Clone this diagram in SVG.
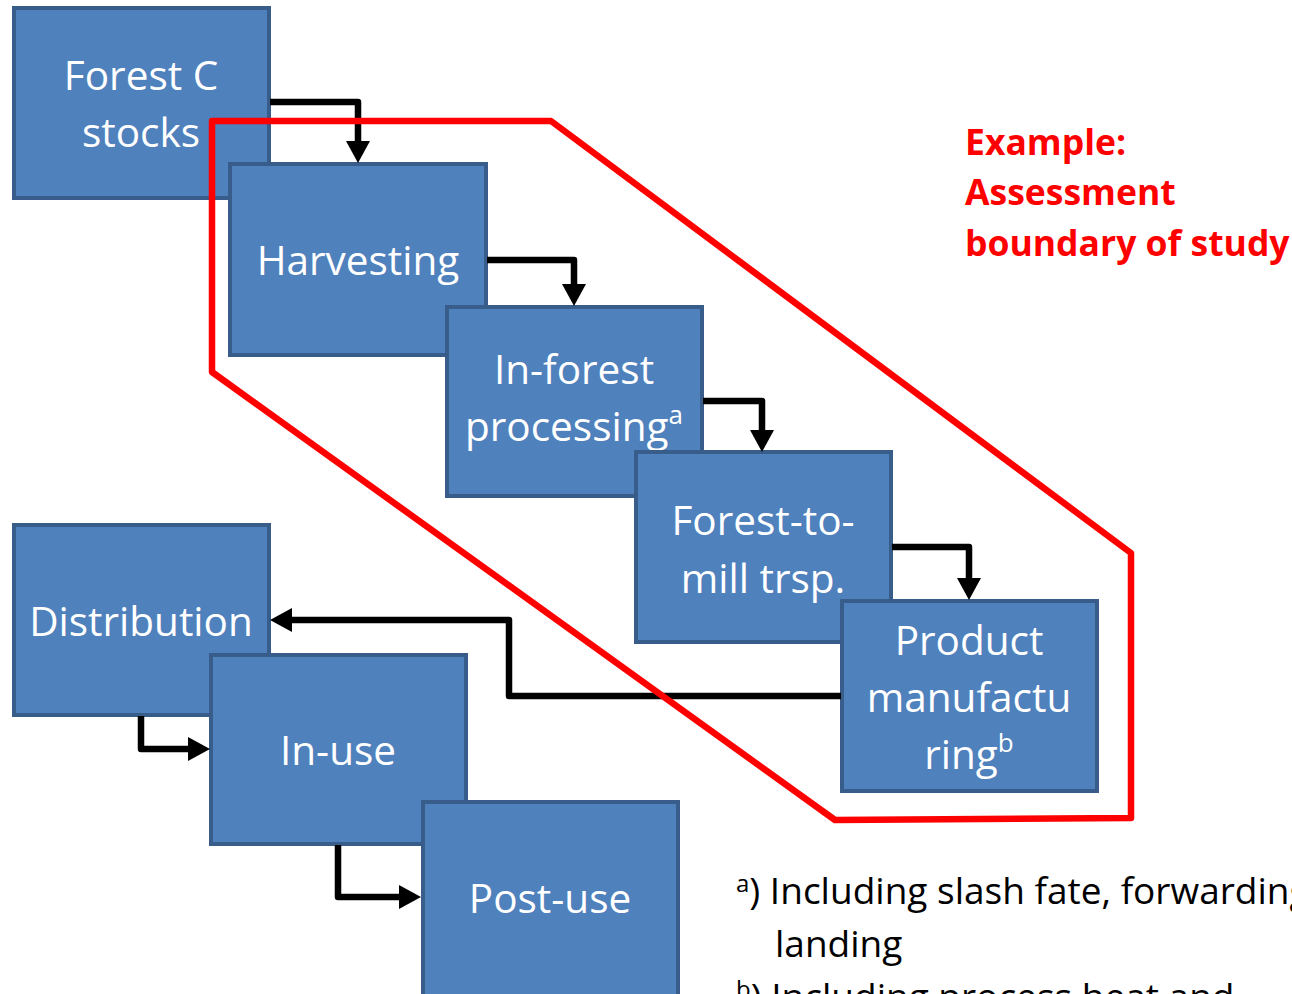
<svg xmlns="http://www.w3.org/2000/svg" width="1292" height="994" viewBox="0 0 1292 994">
<style>
.box{fill:#4F81BD;stroke:#385D8A;stroke-width:4}
.lbl{font-family:"Open Sans","Noto Sans",sans-serif;font-size:40.5px;fill:#FFFFFF;text-anchor:middle}
.sup{font-size:26px}
.con{fill:none;stroke:#000000;stroke-width:6.5;stroke-linejoin:round}
.bnd{fill:none;stroke:#FF0000;stroke-width:6.5;stroke-linejoin:round}
.red{font-family:"Open Sans","Noto Sans",sans-serif;font-size:35.5px;font-weight:bold;fill:#FF0000}
.note{font-family:"Open Sans","Noto Sans",sans-serif;font-size:37px;fill:#000000}
</style>
<defs>
<marker id="ah" markerUnits="userSpaceOnUse" markerWidth="30" markerHeight="30" refX="0" refY="12" orient="auto" overflow="visible">
<path d="M0,0 L22,12 L0,24 Z" fill="#000000"/>
</marker>
</defs>
<g id="node-forest-c-stocks">
<rect class="box" x="14" y="8" width="255" height="190"/>
<text class="lbl" x="141" y="90">Forest C</text>
<text class="lbl" x="141" y="147">stocks</text>
</g>
<g id="node-harvesting">
<rect class="box" x="230" y="164" width="256" height="191"/>
<text class="lbl" x="358" y="275">Harvesting</text>
</g>
<g id="node-in-forest-processing">
<rect class="box" x="447" y="307" width="255" height="189"/>
<text class="lbl" x="574" y="384">In-forest</text>
<text class="lbl" x="574" y="441">processing<tspan class="sup" dy="-17">a</tspan></text>
</g>
<g id="node-forest-to-mill">
<rect class="box" x="636" y="452" width="255" height="190"/>
<text class="lbl" x="763" y="535">Forest-to-</text>
<text class="lbl" x="763" y="593">mill trsp.</text>
</g>
<g id="node-product-manufacturing">
<rect class="box" x="842" y="601" width="255" height="190"/>
<text class="lbl" x="969" y="655">Product</text>
<text class="lbl" x="969" y="712">manufactu</text>
<text class="lbl" x="969" y="769">ring<tspan class="sup" dy="-17">b</tspan></text>
</g>
<g id="node-distribution">
<rect class="box" x="14" y="525" width="255" height="190"/>
<text class="lbl" x="141" y="636">Distribution</text>
</g>
<g id="node-in-use">
<rect class="box" x="211" y="655" width="255" height="189"/>
<text class="lbl" x="338" y="765">In-use</text>
</g>
<g id="node-post-use">
<rect class="box" x="423" y="802" width="255" height="197"/>
<text class="lbl" x="550" y="913">Post-use</text>
</g>
<g id="connectors">
<path class="con" d="M270,102 H358 V141" marker-end="url(#ah)"/>
<path class="con" d="M487,260 H574 V284" marker-end="url(#ah)"/>
<path class="con" d="M703,401 H762 V430" marker-end="url(#ah)"/>
<path class="con" d="M892,547 H969 V578" marker-end="url(#ah)"/>
<path class="con" d="M841,696 H509 V620 H292" marker-end="url(#ah)"/>
<path class="con" d="M141,716 V749 H188" marker-end="url(#ah)"/>
<path class="con" d="M338,845 V897 H399" marker-end="url(#ah)"/>
</g>
<g id="assessment-boundary">
<polygon class="bnd" points="212,121 551,121 1131,553 1131,818 835,820 212,372"/>
</g>
<g id="boundary-label">
<text class="red" x="965" y="155">Example:</text>
<text class="red" x="965" y="205">Assessment</text>
<text class="red" x="965" y="256">boundary of study</text>
</g>
<g id="footnotes">
<text class="note" x="736" y="904"><tspan font-size="24" dy="-12">a</tspan><tspan dy="12">) Including slash fate, forwarding</tspan></text>
<text class="note" x="775" y="957">landing</text>
<text class="note" x="736" y="1010"><tspan font-size="24" dy="-12">b</tspan><tspan dy="12">) Including process heat and</tspan></text>
</g>
</svg>
